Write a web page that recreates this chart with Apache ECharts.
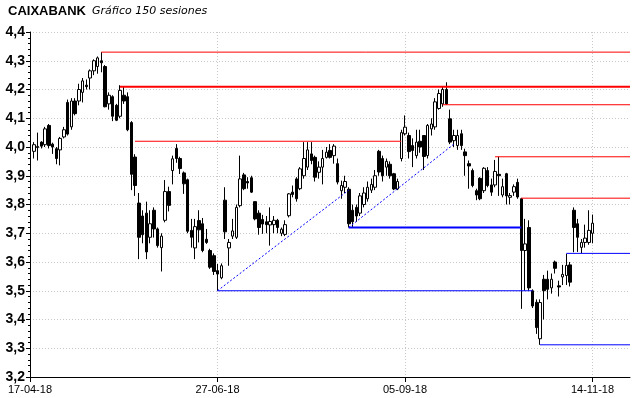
<!DOCTYPE html>
<html><head><meta charset="utf-8">
<script src="https://cdn.jsdelivr.net/npm/echarts@6/dist/echarts.min.js"></script>
<style>html,body{margin:0;padding:0;background:#fff}#c{width:640px;height:398px}</style>
</head><body><div id="c"></div>
<script>
// ---- data ----
const slotCount = 161; // session slots 0..160 on the x axis
const tickLabels = {0:'17-04-18', 50:'27-06-18', 100:'05-09-18', 150:'14-11-18'};
const yMin = 3.2, yMax = 4.4, yStep = 0.1;
const titleMain = 'CAIXABANK';
const titleSub = 'Gráfico 150 sesiones';

const opens = [null,
3.985,3.998,4.017,4.008,4.075,4.01,3.994,3.99,4.035,4.155,4.07,4.16,4.16,4.19,4.215,4.24,4.265,4.28,4.3,4.28,
4.15,4.175,4.145,4.107,4.18,4.175,4.085,3.965,3.805,3.76,3.77,3.686,3.78,3.715,3.65,3.745,3.845,3.918,3.995,3.96,
3.91,3.886,3.71,3.649,3.744,3.733,3.679,3.64,3.622,3.57,3.545,3.815,3.649,3.69,3.686,3.796,3.903,3.88,3.893,3.81,
3.77,3.748,3.74,3.729,3.73,3.745,3.7,3.696,3.761,3.843,3.889,3.855,3.9,3.93,3.976,3.964,3.912,3.93,3.964,3.988,
3.97,3.942,3.848,3.86,3.853,3.78,3.79,3.77,3.8,3.82,3.85,3.86,3.985,3.96,3.93,3.94,3.907,3.854,3.96,4.046,
4.04,4.005,3.97,4.02,4.04,3.97,4.063,4.07,4.134,4.15,4.2,4.098,4.022,4.005,4.046,3.983,3.942,3.918,3.848,3.891,
3.848,3.918,3.868,3.868,3.905,3.833,3.907,3.825,3.843,3.877,3.82,3.64,3.72,3.5,3.46,3.333,3.54,3.54,3.51,3.6,
3.517,3.548,3.553,3.59,3.78,3.733,3.651,3.668,3.668,3.7];
const closes = [null,
4.008,4.002,4.003,4.063,4.005,4.0,3.96,4.03,4.06,4.045,4.16,4.116,4.2,4.23,4.21,4.265,4.3,4.31,4.293,4.14,
4.18,4.107,4.093,4.197,4.16,4.06,3.905,3.866,3.686,3.695,3.635,3.733,3.715,3.657,3.69,3.845,3.797,3.959,3.96,3.925,
3.872,3.707,3.686,3.723,3.712,3.64,3.668,3.582,3.567,3.558,3.587,3.705,3.668,3.708,3.79,3.889,3.855,3.875,3.843,3.75,
3.72,3.732,3.73,3.741,3.745,3.72,3.714,3.73,3.837,3.835,3.82,3.924,3.96,3.99,3.953,3.895,3.93,3.96,3.982,3.964,
4.003,3.878,3.866,3.88,3.733,3.74,3.76,3.83,3.84,3.86,3.87,3.9,3.913,3.9,3.95,3.9,3.854,3.88,4.05,4.069,
3.984,3.988,4.017,4.0,3.967,4.075,4.08,4.157,4.186,4.2,4.15,4.017,4.04,4.04,4.005,3.97,3.934,3.866,3.833,3.82,
3.926,3.866,3.843,3.915,3.9,3.862,3.83,3.831,3.862,3.826,3.64,3.663,3.51,3.447,3.372,3.459,3.5,3.505,3.54,3.578,
3.513,3.557,3.588,3.53,3.72,3.686,3.668,3.683,3.71,3.735];
const lows = [null,
3.96,3.953,3.995,4.0,3.995,3.976,3.94,3.936,4.03,4.04,4.06,4.11,4.145,4.155,4.2,4.2,4.25,4.255,4.26,4.138,
4.13,4.09,4.09,4.1,4.15,4.055,3.85,3.83,3.61,3.665,3.61,3.665,3.685,3.65,3.567,3.738,3.776,3.87,3.945,3.906,
3.837,3.7,3.65,3.61,3.668,3.634,3.663,3.576,3.555,3.5,3.54,3.68,3.587,3.68,3.68,3.79,3.85,3.855,3.84,3.745,
3.695,3.698,3.7,3.657,3.7,3.7,3.69,3.69,3.755,3.825,3.81,3.85,3.89,3.92,3.94,3.88,3.89,3.87,3.96,3.96,
3.942,3.87,3.82,3.84,3.72,3.72,3.74,3.76,3.79,3.81,3.84,3.85,3.9,3.88,3.9,3.89,3.85,3.85,3.95,4.04,
3.96,3.93,3.96,3.98,3.92,3.96,4.04,4.06,4.13,4.14,4.147,4.01,4.0,3.99,3.99,3.9,3.855,3.86,3.815,3.815,
3.84,3.86,3.83,3.86,3.83,3.825,3.8,3.8,3.83,3.82,3.437,3.5,3.5,3.44,3.35,3.312,3.4,3.47,3.49,3.56,
3.48,3.52,3.52,3.515,3.634,3.635,3.631,3.65,3.66,3.665];
const highs = [null,
4.017,4.05,4.02,4.07,4.08,4.015,4.0,4.035,4.07,4.165,4.17,4.17,4.22,4.24,4.235,4.27,4.305,4.315,4.33,4.285,
4.19,4.18,4.15,4.215,4.21,4.19,4.09,3.975,3.84,3.78,3.81,3.78,3.79,3.72,3.7,3.885,3.862,3.97,4.01,3.966,
3.915,3.89,3.75,3.75,3.78,3.753,3.715,3.646,3.63,3.593,3.595,3.86,3.68,3.75,3.8,3.97,3.91,3.895,3.9,3.81,
3.78,3.764,3.76,3.79,3.76,3.75,3.72,3.745,3.84,3.866,3.895,3.93,4.017,4.017,4.017,3.97,3.95,3.99,4.0,4.01,
4.01,3.96,3.883,3.9,3.86,3.8,3.8,3.84,3.86,3.88,3.89,3.92,3.99,3.97,3.96,3.95,3.91,3.89,4.06,4.11,
4.05,4.03,4.06,4.06,4.04,4.08,4.1,4.17,4.2,4.21,4.225,4.13,4.06,4.06,4.06,3.994,3.953,3.925,3.855,3.895,
3.93,3.93,3.89,3.955,3.966,3.89,3.91,3.84,3.87,3.89,3.823,3.75,3.745,3.505,3.47,3.47,3.555,3.57,3.56,3.605,
3.535,3.59,3.628,3.6,3.79,3.75,3.68,3.73,3.78,3.765];

// horizontal resistance (red) and support (blue) levels
const resistLevels = [4.33, 4.21, 4.02, 4.147, 3.966, 3.822];
const resistFrom   = [19, 24, 28, 110, 124, 131];
const resistTo     = [160, 160, 99, 160, 160, 160];
const resistWidth  = [1, 2, 1, 1, 1, 1];
const supportLevels = [3.72, 3.50, 3.312, 3.63];
const supportFrom   = [85, 50, 136, 143];
const supportTo     = [131, 134, 160, 160];
const supportWidth  = [2, 1, 1, 1];
// dashed trend lines
const trendFromSlot = [50, 85];
const trendFromVal  = [3.50, 3.72];
const trendToSlot   = [85, 113];
const trendToVal    = [3.85, 4.01];

// ---- build ----
const categories = [];
for (let i = 0; i < slotCount; i++) categories.push(String(i));
const candles = opens.map((o, i) => o == null ? '-' : [o, closes[i], lows[i], highs[i]]);
const isTick = (idx) => tickLabels[idx] !== undefined;

const series = [{
  type: 'candlestick',
  data: candles,
  barWidth: 3,
  silent: true,
  itemStyle: {color: '#ffffff', color0: '#000000', borderColor: '#000000', borderColor0: '#000000', borderColorDoji: '#000000', borderWidth: 1},
  z: 3
}];
function hline(lvl, a, b, w, col) {
  series.push({type: 'line', data: [[a, lvl], [b, lvl]], symbol: 'none', silent: true,
    lineStyle: {color: col, width: w, type: 'solid'}, z: 4});
}
resistLevels.forEach((l, k) => hline(l, resistFrom[k], resistTo[k], resistWidth[k], '#ff0000'));
supportLevels.forEach((l, k) => hline(l, supportFrom[k], supportTo[k], supportWidth[k], '#0000ff'));
trendFromSlot.forEach((s, k) => series.push({type: 'line', symbol: 'none', silent: true,
  data: [[s, trendFromVal[k]], [trendToSlot[k], trendToVal[k]]],
  lineStyle: {color: '#0000ff', width: 1, type: [2, 2]}, z: 4}));

const chart = echarts.init(document.getElementById('c'), null, {renderer: 'canvas'});
chart.setOption({
  animation: false,
  backgroundColor: '#ffffff',
  graphic: [
    {type: 'text', left: 8, top: 5, style: {text: titleMain, font: 'bold 13px "Liberation Sans"', fill: '#000'}},
    {type: 'text', left: 92, top: 6, style: {text: titleSub, font: 'italic 11px "DejaVu Sans"', fill: '#000'}}
  ],
  grid: {left: 30, right: 10, top: 32, bottom: 21},
  xAxis: {
    type: 'category', data: categories, boundaryGap: false,
    axisLine: {lineStyle: {color: '#000', width: 1}},
    axisTick: {show: true, interval: (i) => isTick(i), length: 5, lineStyle: {color: '#000'}},
    axisLabel: {interval: (i) => isTick(i), formatter: (v, i) => tickLabels[i] || '',
      fontFamily: 'Liberation Sans', fontSize: 11, color: '#000', margin: 7},
    splitLine: {show: true, interval: (i) => isTick(i) && i > 0, lineStyle: {color: '#c8c8c8', type: [1, 2], width: 1}}
  },
  yAxis: {
    type: 'value', min: yMin, max: yMax, interval: yStep, scale: true,
    axisLine: {show: true, lineStyle: {color: '#000', width: 1}},
    axisTick: {show: true, length: 4, lineStyle: {color: '#000'}},
    minorTick: {show: true, splitNumber: 5, length: 2, lineStyle: {color: '#000'}},
    axisLabel: {formatter: (v) => v.toFixed(1).replace('.', ','), fontFamily: 'Liberation Sans',
      fontWeight: 'bold', fontSize: 14, color: '#000', margin: 5},
    splitLine: {show: true, lineStyle: {color: '#c8c8c8', type: [1, 2], width: 1}}
  },
  series: series
});
</script></body></html>
